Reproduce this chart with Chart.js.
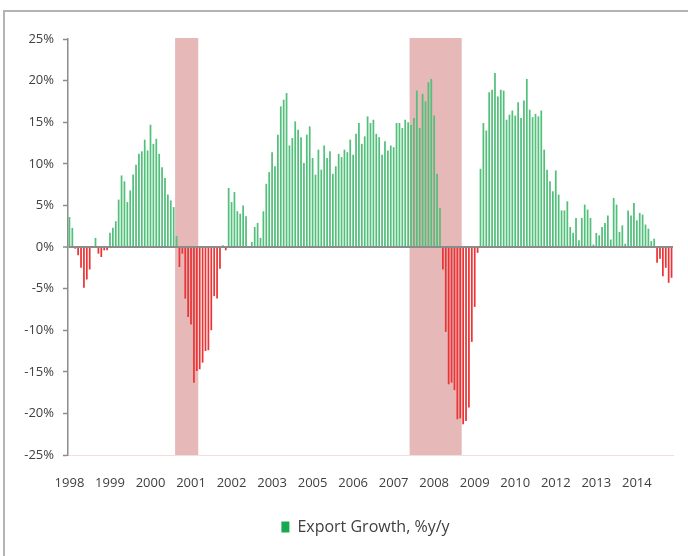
<!DOCTYPE html>
<html>
<head>
<meta charset="utf-8">
<script src="https://cdn.jsdelivr.net/npm/chart.js@4.4.1/dist/chart.umd.min.js"></script>
<style>
html, body { margin: 0; padding: 0; background: #ffffff; }
#c { display: block; }
</style>
</head>
<body>
<canvas id="c" width="688" height="556"></canvas>
<script>
// ---- data (monthly, starting Jan 1998) ----
const startYear = 1998;
const startMonth = 1;
const exportGrowth = [
  3.6, 2.3, -0.2, -1.0, -2.5, -4.9, -3.9, -2.7, 0.0, 1.1, -0.8, -1.2,
  -0.4, -0.4, 1.7, 2.3, 3.1, 5.7, 8.6, 7.9, 5.4, 6.8, 8.7, 9.9,
  11.2, 11.5, 12.9, 11.6, 14.7, 12.4, 13.0, 11.2, 9.6, 8.3, 6.3, 5.6,
  4.8, 1.3, -2.4, -0.8, -6.2, -8.4, -9.3, -16.3, -14.9, -14.7, -13.9, -12.5,
  -12.4, -10.0, -5.9, -6.2, -2.6, 0.2, -0.4, 7.1, 5.4, 6.6, 4.3, 4.0,
  5.0, 3.7, 0.1, 0.6, 2.4, 2.9, 1.1, 4.3, 7.6, 9.0, 11.4, 9.7,
  13.5, 16.9, 17.7, 18.5, 12.2, 13.1, 15.1, 14.1, 13.2, 10.1, 13.5, 14.5,
  10.7, 8.7, 11.7, 9.3, 12.2, 10.7, 11.5, 8.8, 9.7, 11.2, 10.8, 11.7,
  11.4, 12.9, 11.1, 13.6, 14.9, 12.4, 13.3, 15.7, 14.9, 15.3, 13.6, 13.2,
  11.1, 12.7, 11.6, 12.2, 12.0, 14.9, 14.9, 14.3, 15.3, 15.0, 14.7, 15.5,
  18.8, 14.3, 18.4, 17.5, 19.8, 20.2, 15.8, 8.8, 4.7, -2.7, -10.2, -16.5,
  -16.3, -17.2, -20.7, -20.6, -21.3, -20.9, -19.3, -11.4, -7.2, -0.7, 9.4, 14.9,
  14.0, 18.6, 18.9, 20.9, 18.1, 18.9, 18.8, 15.3, 15.9, 16.4, 15.8, 17.4,
  15.5, 17.6, 20.2, 16.5, 15.6, 16.0, 15.7, 16.4, 11.7, 9.3, 7.9, 6.7,
  9.2, 6.3, 4.4, 4.4, 5.5, 2.4, 1.7, 3.5, 0.8, 3.5, 5.1, 4.5,
  3.5, 0.3, 1.7, 1.4, 2.4, 2.9, 3.8, 0.9, 5.9, 5.1, 1.8, 2.6,
  0.4, 4.4, 3.8, 5.3, 3.2, 4.1, 3.9, 2.7, 2.2, 0.7, 1.0, -1.9,
  -1.4, -3.5, -2.5, -4.3, -3.7
];
const months = exportGrowth.map((_, i) => {
  const m = startMonth - 1 + i;
  return (startYear + Math.floor(m / 12)) + '-' + String(m % 12 + 1).padStart(2, '0');
});
const xTickLabels = ['1998', '1999', '2000', '2001', '2002', '2003', '2005', '2006',
                     '2007', '2008', '2009', '2010', '2012', '2013', '2014'];
const xTickEvery = 14;
const recessions = [['2001-02', '2001-09'], ['2007-11', '2009-04']];
const yMin = -25, yMax = 25, yStep = 5;
const seriesName = 'Export Growth, %y/y';

// ---- style ----
const GREEN = '#52bf7a';
const RED = '#ea3436';
const LEGEND_GREEN = '#17a852';
const SHADE = '#e6b8b7';
const TEXT = '#404040';
const AXIS = '#8c8c8c';
const FRAME = '#b4b4b4';
const FONT = "'Open Sans', 'Liberation Sans', sans-serif";

const decorPlugin = {
  id: 'decor',
  beforeDraw(chart) {
    const { ctx, chartArea, scales } = chart;
    const x = scales.x;
    const half = (x.getPixelForValue(1) - x.getPixelForValue(0)) / 2;
    ctx.save();
    ctx.fillStyle = SHADE;
    recessions.forEach(([a, b]) => {
      const x0 = x.getPixelForValue(months.indexOf(a)) - half;
      const x1 = x.getPixelForValue(months.indexOf(b)) + half;
      ctx.fillRect(x0, chartArea.top - 1, x1 - x0, chartArea.bottom - chartArea.top + 1);
    });
    ctx.restore();
  },
  afterDraw(chart) {
    const { ctx, width, height } = chart;
    ctx.save();
    ctx.strokeStyle = FRAME;
    ctx.lineWidth = 2;
    ctx.beginPath();
    ctx.moveTo(width, 11);
    ctx.lineTo(4, 11);
    ctx.lineTo(4, height);
    ctx.stroke();
    ctx.restore();
  }
};

const legendShift = {
  id: 'legendShift',
  afterLayout(chart) {
    if (chart.legend) { chart.legend.left -= 5; chart.legend.right -= 5; }
  }
};

new Chart(document.getElementById('c'), {
  type: 'bar',
  data: {
    labels: months,
    datasets: [{
      label: seriesName,
      data: exportGrowth,
      backgroundColor: exportGrowth.map(v => v < 0 ? RED : GREEN),
      borderWidth: 0,
      categoryPercentage: 1.0,
      barPercentage: 0.6
    }]
  },
  options: {
    responsive: false,
    animation: false,
    devicePixelRatio: 1,
    layout: { padding: { left: 0, right: 15, top: 39, bottom: 11 } },
    plugins: {
      tooltip: { enabled: false },
      legend: {
        position: 'bottom',
        fullSize: false,
        labels: {
          color: TEXT,
          font: { family: FONT, size: 16 },
          boxWidth: 8,
          boxHeight: 11,
          padding: 8,
          generateLabels: () => [{
            text: seriesName, fillStyle: LEGEND_GREEN, strokeStyle: LEGEND_GREEN,
            lineWidth: 0, hidden: false, datasetIndex: 0, fontColor: TEXT
          }]
        }
      }
    },
    scales: {
      x: {
        type: 'category',
        offset: true,
        grid: { display: false, drawTicks: false },
        border: { display: true, color: '#f3dede', width: 1 },
        ticks: {
          autoSkip: false,
          maxRotation: 0,
          minRotation: 0,
          padding: 12,
          color: TEXT,
          font: { family: FONT, size: 13, lineHeight: 2.46 },
          callback: (val, i) => (i % xTickEvery === 0) ? xTickLabels[i / xTickEvery] : null
        }
      },
      y: {
        min: yMin,
        max: yMax,
        afterFit: s => { s.width = 68; },
        grid: {
          z: 1,
          color: c => (c.tick && c.tick.value === 0) ? AXIS : 'rgba(0,0,0,0)',
          lineWidth: c => (c.tick && c.tick.value === 0) ? 2 : 1,
          tickColor: AXIS,
          tickWidth: 1.5,
          tickLength: 5,
          drawTicks: true
        },
        border: { display: true, color: AXIS, width: 1.5, z: 1 },
        ticks: {
          stepSize: yStep,
          padding: 9,
          color: TEXT,
          font: { family: FONT, size: 13 },
          callback: v => v + '%'
        }
      }
    }
  },
  plugins: [decorPlugin, legendShift]
});
</script>
</body>
</html>
